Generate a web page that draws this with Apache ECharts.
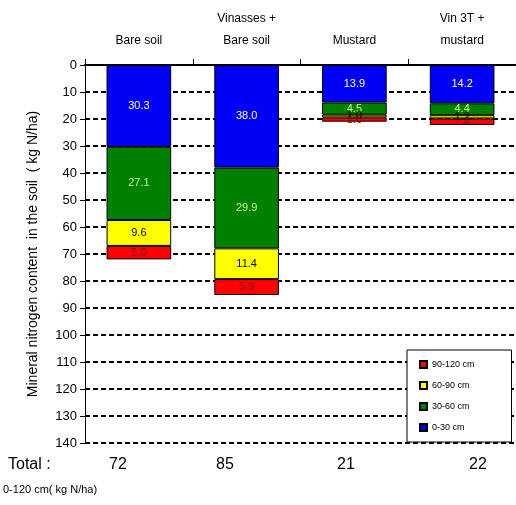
<!DOCTYPE html>
<html>
<head>
<meta charset="utf-8">
<script src="https://cdn.jsdelivr.net/npm/echarts@6/dist/echarts.min.js"></script>
<style>html,body{margin:0;padding:0;background:#fff;}#c{width:516px;height:505px;}</style>
</head>
<body>
<div id="c"></div>
<script>
var categories = ['Bare soil', 'Vinasses +\nBare soil', 'Mustard', 'Vin 3T +\nmustard'];
var layer0_30 = [30.3, 38.0, 13.9, 14.2];
var layer30_60 = [27.1, 29.9, 4.5, 4.4];
var layer60_90 = [9.6, 11.4, 1.0, 1.2];
var layer90_120 = [5.0, 5.9, 1.6, 2.4];
var totals = ['72', '85', '21', '22'];
var yTicks = [0, 140, 10];

var chart = echarts.init(document.getElementById('c'));
var FONT = '"Liberation Sans", Arial, sans-serif';
function mkSeries(name, data, color, labelColor) {
  return {
    name: name, type: 'bar', stack: 'n', data: data, barWidth: '60%',
    itemStyle: { color: color, borderColor: '#000', borderWidth: 1 },
    label: { show: true, position: 'inside', color: labelColor, fontFamily: FONT, fontSize: 11,
      formatter: function (p) { return p.value.toFixed(1); } },
    z: 3
  };
}
var totalX = [118, 225, 346, 478];
var graphics = [
  { type: 'text', left: 8, top: 457, style: { text: 'Total :', font: '16px ' + FONT, fill: '#000' } },
  { type: 'text', left: 3, top: 484, style: { text: '0-120 cm( kg N/ha)', font: '11px ' + FONT, fill: '#000' } }
];
totals.forEach(function (t, i) {
  graphics.push({ type: 'text', x: totalX[i], y: 457, style: { text: t, font: '16px ' + FONT, fill: '#000', align: 'center' } });
});
chart.setOption({
  backgroundColor: '#fff',
  animation: false,
  textStyle: { fontFamily: FONT },
  grid: { left: 85, top: 65, width: 434, height: 378 },
  legend: {
    orient: 'vertical', left: 407, top: 350,
    data: ['90-120 cm', '60-90 cm', '30-60 cm', '0-30 cm'],
    backgroundColor: '#fff', borderColor: '#000', borderWidth: 1,
    padding: [10, 37, 10, 12], itemGap: 12, itemWidth: 7, itemHeight: 7,
    icon: 'rect', textStyle: { fontSize: 9, color: '#000', fontFamily: FONT },
    selectedMode: false
  },
  xAxis: {
    type: 'category', data: categories, position: 'top', z: 5,
    axisLine: { show: true, lineStyle: { color: '#000', width: 2 } },
    axisTick: { show: true, length: 6, lineStyle: { color: '#000' } },
    axisLabel: { color: '#000', fontSize: 12, lineHeight: 22, margin: 13, interval: 0, fontFamily: FONT }
  },
  yAxis: {
    type: 'value', inverse: true, min: yTicks[0], max: yTicks[1], interval: yTicks[2],
    name: 'Mineral nitrogen content  in the soil  ( kg N/ha)', nameLocation: 'middle', nameGap: 45,
    nameTextStyle: { fontSize: 14, color: '#000', fontFamily: FONT },
    axisLine: { show: true, lineStyle: { color: '#000', width: 1 } },
    axisTick: { show: true, length: 5, lineStyle: { color: '#000' } },
    axisLabel: { color: '#000', fontSize: 13, margin: 8, fontFamily: FONT },
    splitLine: { show: true, lineStyle: { color: '#000', width: 2, type: [5, 3] } }
  },
  series: [
    mkSeries('0-30 cm', layer0_30, '#0000F5', '#fff'),
    mkSeries('30-60 cm', layer30_60, '#008000', '#ccff66'),
    mkSeries('60-90 cm', layer60_90, '#FFFF00', '#000'),
    mkSeries('90-120 cm', layer90_120, '#FF0000', '#800000')
  ],
  graphic: graphics
});
</script>
</body>
</html>
